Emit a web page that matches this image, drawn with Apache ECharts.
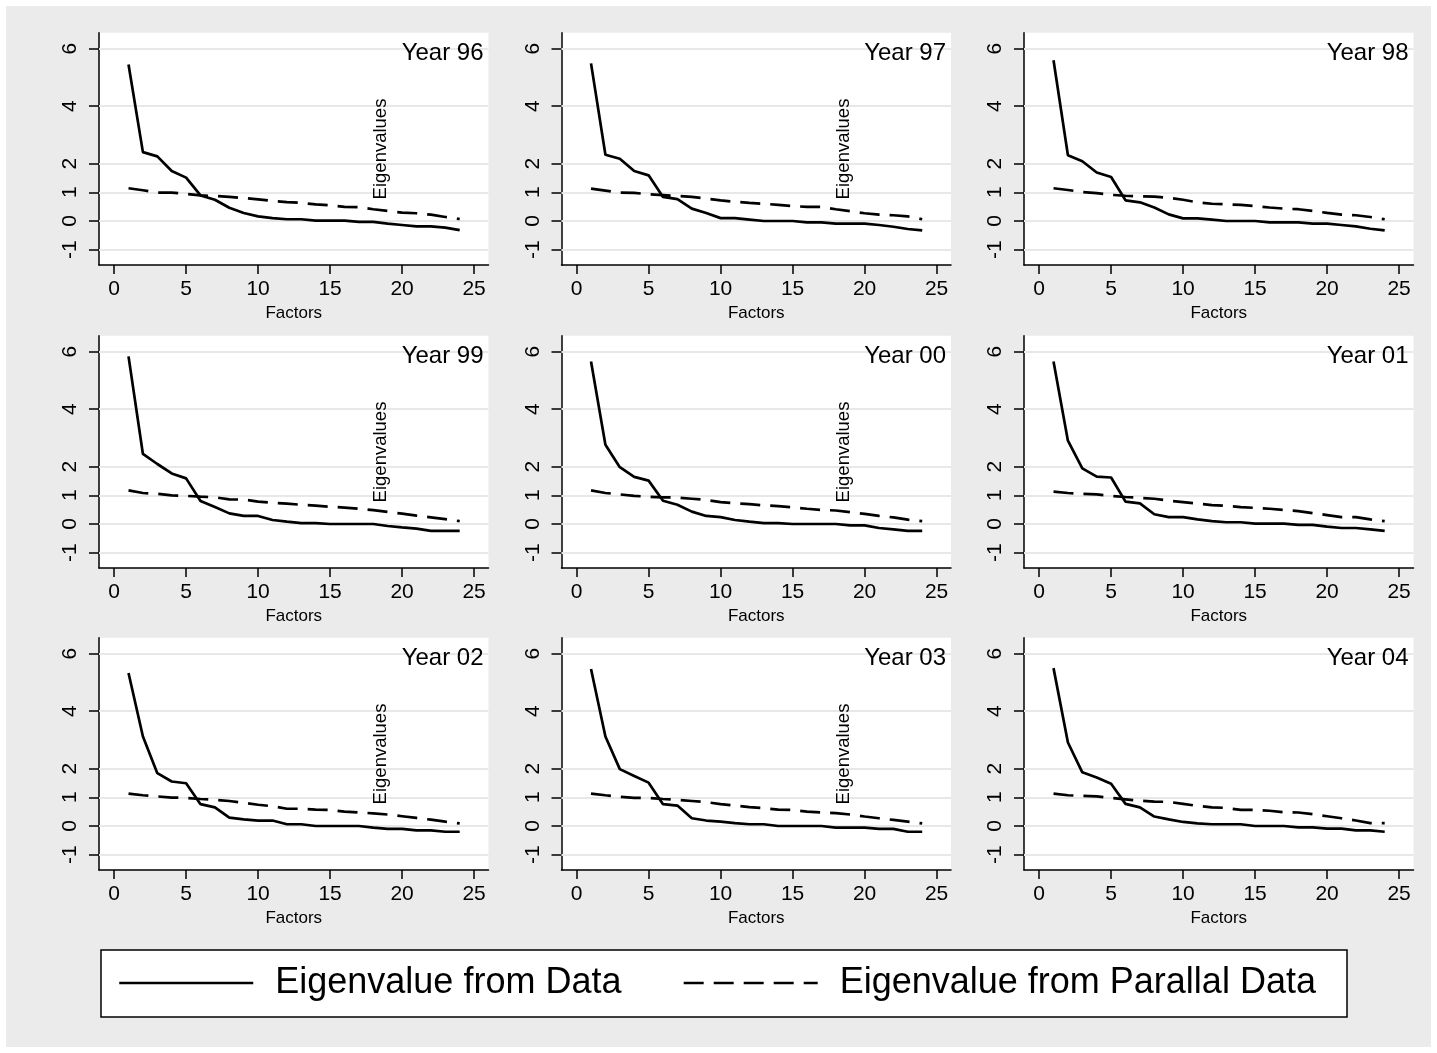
<!DOCTYPE html>
<html>
<head>
<meta charset="utf-8">
<script src="https://cdn.jsdelivr.net/npm/echarts@6/dist/echarts.min.js"></script>
<style>
html,body{margin:0;padding:0;background:#ffffff;}
#chart{width:1437px;height:1053px;}
</style>
</head>
<body>
<div id="chart"></div>
<script>
// ---------------- data ----------------
const factors = [1,2,3,4,5,6,7,8,9,10,11,12,13,14,15,16,17,18,19,20,21,22,23,24];
const xTicks = [0,5,10,15,20,25];
const yTicks = [-1,0,1,2,4,6];
const panelTitles = ['Year 96','Year 97','Year 98','Year 99','Year 00','Year 01','Year 02','Year 03','Year 04'];
const seriesNames = ['Eigenvalue from Data','Eigenvalue from Parallal Data'];

const eig96 = [5.45,2.40,2.25,1.74,1.51,0.89,0.74,0.46,0.28,0.16,0.10,0.06,0.06,0.01,0.01,0.01,-0.03,-0.03,-0.09,-0.14,-0.19,-0.19,-0.23,-0.32];
const par96 = [1.14,1.07,0.99,0.99,0.94,0.89,0.87,0.84,0.80,0.75,0.70,0.66,0.63,0.58,0.55,0.49,0.48,0.41,0.35,0.29,0.27,0.22,0.14,0.07];
const eig97 = [5.49,2.31,2.17,1.74,1.59,0.84,0.76,0.43,0.28,0.10,0.10,0.05,0.00,0.00,0.00,-0.05,-0.05,-0.09,-0.09,-0.09,-0.14,-0.20,-0.28,-0.33];
const par97 = [1.13,1.06,0.99,0.98,0.93,0.90,0.87,0.84,0.78,0.72,0.67,0.63,0.60,0.56,0.52,0.49,0.49,0.41,0.34,0.27,0.22,0.20,0.16,0.06];
const eig98 = [5.60,2.29,2.08,1.69,1.53,0.72,0.65,0.47,0.23,0.09,0.09,0.05,0.00,0.00,0.00,-0.05,-0.05,-0.05,-0.09,-0.09,-0.14,-0.19,-0.27,-0.33];
const par98 = [1.14,1.08,1.01,0.97,0.91,0.88,0.86,0.85,0.81,0.74,0.65,0.60,0.58,0.56,0.52,0.47,0.43,0.41,0.35,0.28,0.22,0.20,0.14,0.06];
const eig99 = [5.84,2.44,2.09,1.76,1.59,0.80,0.59,0.37,0.28,0.28,0.14,0.08,0.03,0.03,0.00,0.00,0.00,0.00,-0.07,-0.12,-0.16,-0.24,-0.24,-0.24];
const par99 = [1.17,1.08,1.05,1.00,0.98,0.95,0.93,0.86,0.85,0.78,0.74,0.71,0.67,0.64,0.60,0.57,0.53,0.48,0.42,0.36,0.29,0.23,0.17,0.10];
const eig00 = [5.66,2.76,1.98,1.64,1.51,0.81,0.67,0.43,0.28,0.24,0.14,0.08,0.03,0.03,0.00,0.00,0.00,0.00,-0.05,-0.05,-0.14,-0.19,-0.24,-0.24];
const par00 = [1.17,1.08,1.03,0.98,0.95,0.93,0.92,0.88,0.84,0.76,0.72,0.69,0.65,0.62,0.58,0.53,0.49,0.47,0.41,0.35,0.28,0.23,0.15,0.10];
const eig01 = [5.66,2.90,1.94,1.65,1.62,0.78,0.72,0.34,0.24,0.24,0.16,0.10,0.06,0.06,0.01,0.01,0.01,-0.03,-0.03,-0.09,-0.14,-0.14,-0.19,-0.24];
const par01 = [1.13,1.08,1.05,1.03,0.98,0.94,0.91,0.88,0.81,0.76,0.71,0.66,0.63,0.59,0.56,0.53,0.49,0.45,0.38,0.31,0.24,0.24,0.16,0.10];
const eig02 = [5.33,3.12,1.84,1.55,1.49,0.76,0.65,0.29,0.23,0.19,0.19,0.06,0.06,0.00,0.00,0.00,0.00,-0.06,-0.10,-0.10,-0.15,-0.15,-0.20,-0.20];
const par02 = [1.13,1.07,1.03,0.99,0.98,0.94,0.91,0.87,0.81,0.74,0.69,0.60,0.60,0.57,0.56,0.50,0.47,0.44,0.40,0.34,0.28,0.22,0.15,0.09];
const eig03 = [5.47,3.12,1.98,1.74,1.51,0.76,0.71,0.27,0.19,0.15,0.10,0.06,0.06,0.00,0.00,0.00,0.00,-0.06,-0.06,-0.06,-0.10,-0.10,-0.20,-0.20];
const par03 = [1.13,1.07,1.02,0.98,0.98,0.94,0.91,0.87,0.83,0.76,0.71,0.66,0.62,0.57,0.56,0.50,0.47,0.45,0.40,0.33,0.27,0.21,0.15,0.09];
const eig04 = [5.50,2.91,1.87,1.69,1.47,0.77,0.65,0.33,0.23,0.14,0.09,0.06,0.06,0.06,0.00,0.00,0.00,-0.05,-0.05,-0.09,-0.09,-0.15,-0.15,-0.20];
const par04 = [1.13,1.07,1.05,1.03,0.98,0.93,0.88,0.85,0.84,0.77,0.70,0.65,0.63,0.56,0.56,0.53,0.48,0.47,0.41,0.34,0.27,0.19,0.10,0.10];

const eigData = [eig96,eig97,eig98,eig99,eig00,eig01,eig02,eig03,eig04];
const parData = [par96,par97,par98,par99,par00,par01,par02,par03,par04];

// ---------------- layout / style ----------------
const FONT = '"Liberation Sans", Arial, Helvetica, sans-serif';
const colLeft = [99, 561.5, 1024];
const rowTop = [32.7, 335.7, 637.7];
const gridW = 389.5, gridH = 232.2;
const xMin = -1.05, xMax = 26, yMin = -1.53, yMax = 6.56;
const gridColor = '#e8e8e8';
const bgColor = '#ebebeb';
const LW = 2.7;

const grids = [], xAxes = [], yAxes = [], series = [], graphics = [];

graphics.push({type:'rect', z:-10, silent:true, shape:{x:6,y:6,width:1425,height:1041}, style:{fill:bgColor}});

for (let i = 0; i < 9; i++) {
  const r = Math.floor(i / 3), c = i % 3;
  const left = colLeft[c], top = rowTop[r];
  grids.push({left:left, top:top, width:gridW, height:gridH, show:true, backgroundColor:'#ffffff', borderWidth:0, containLabel:false, outerBoundsMode:'none'});
  xAxes.push({
    type:'value', gridIndex:i, min:xMin, max:xMax,
    name:'Factors', nameLocation:'middle', nameGap:40,
    nameTextStyle:{fontSize:17, color:'#000', fontFamily:FONT},
    axisLine:{show:true, onZero:false, lineStyle:{color:'#000', width:1.5}},
    axisTick:{show:true, customValues:xTicks, length:9, lineStyle:{color:'#000', width:1.5}},
    axisLabel:{show:true, customValues:xTicks, fontSize:21, color:'#000', fontFamily:FONT, margin:14},
    splitLine:{show:false}
  });
  yAxes.push({
    type:'value', gridIndex:i, min:yMin, max:yMax,
    axisLine:{show:true, onZero:false, lineStyle:{color:'#000', width:1.5}},
    axisTick:{show:true, customValues:yTicks, length:10, lineStyle:{color:'#000', width:1.5}},
    axisLabel:{show:true, customValues:yTicks, rotate:90, fontSize:21, color:'#000', fontFamily:FONT, margin:18},
    splitLine:{show:false}
  });
  // gridlines (behind data)
  series.push({
    type:'line', xAxisIndex:i, yAxisIndex:i, data:[], z:1, silent:true,
    markLine:{z:1, silent:true, symbol:['none','none'], label:{show:false}, animation:false,
      lineStyle:{color:gridColor, width:2, type:'solid'},
      emphasis:{disabled:true},
      data: yTicks.map(v => ({yAxis:v}))}
  });
  series.push({
    name:seriesNames[0], type:'line', xAxisIndex:i, yAxisIndex:i, z:6,
    data: factors.map((f,k) => [f, eigData[i][k]]),
    showSymbol:false, symbol:'none', silent:true,
    lineStyle:{color:'#000', width:LW, type:'solid'}, itemStyle:{color:'#000'}
  });
  series.push({
    name:seriesNames[1], type:'line', xAxisIndex:i, yAxisIndex:i, z:6,
    data: factors.map((f,k) => [f, parData[i][k]]),
    showSymbol:false, symbol:'none', silent:true,
    lineStyle:{color:'#000', width:LW, type:[20,10]}, itemStyle:{color:'#000'}
  });
  // panel title
  graphics.push({type:'text', z:10, silent:true, x:left + gridW - 5, y:top + 21,
    style:{text:panelTitles[i], fontSize:24, fontFamily:FONT, fill:'#000', align:'right', verticalAlign:'middle'}});
  // y title (drawn inside plot like the original)
  if (c < 2) {
    const x0 = left + (0 - xMin) / (xMax - xMin) * gridW;
    const y0 = top + (yMax - 0) / (yMax - yMin) * gridH;
    graphics.push({type:'text', z:10, silent:true, x:x0 + 267, y:y0 - 72, rotation:Math.PI/2,
      style:{text:'Eigenvalues', fontSize:18.5, fontFamily:FONT, fill:'#000', align:'center', verticalAlign:'middle'}});
  }
}

// legend box
graphics.push({type:'rect', z:0, silent:true, shape:{x:101, y:950, width:1246, height:67},
  style:{fill:'#ffffff', stroke:'#000', lineWidth:1.5}});

const option = {
  animation:false,
  backgroundColor:'transparent',
  textStyle:{fontFamily:FONT},
  graphic:{elements:graphics},
  grid:grids, xAxis:xAxes, yAxis:yAxes, series:series,
  legend:{
    data:seriesNames, left:118, top:965, padding:0, itemGap:61,
    itemWidth:134, itemHeight:14, selectedMode:false, z:20,
    itemStyle:{color:'rgba(0,0,0,0)', borderWidth:0, opacity:0},
    lineStyle:{width:2.5},
    textStyle:{fontSize:36, color:'#000', fontFamily:FONT, padding:[0,0,0,17]}
  }
};

const chart = echarts.init(document.getElementById('chart'), null, {renderer:'canvas'});
chart.setOption(option);
</script>
</body>
</html>
